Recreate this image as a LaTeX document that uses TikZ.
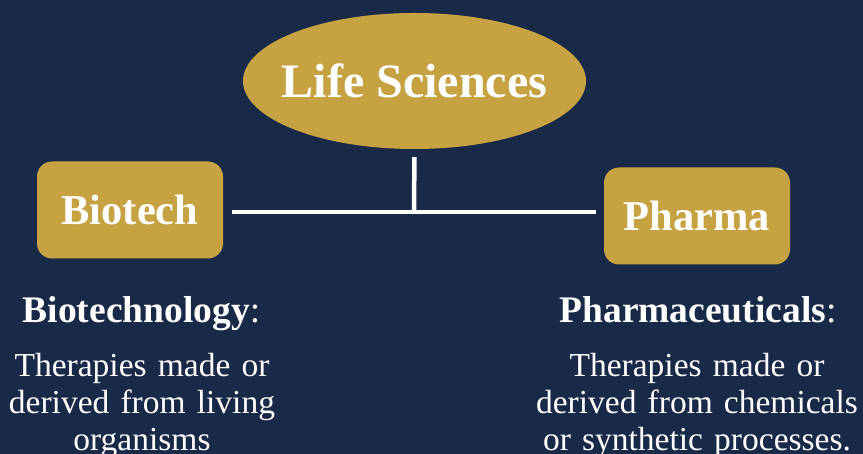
\documentclass[tikz,border=0pt]{standalone}
\usepackage{fontspec}
\setmainfont{Liberation Serif}
\usepackage{xcolor}
\usetikzlibrary{shapes.geometric}
\definecolor{navy}{RGB}{25,42,72}
\definecolor{gold}{RGB}{198,162,67}

\begin{document}
\begin{tikzpicture}[x=1pt,y=1pt,
                hub/.style={ellipse, fill=gold, text=white, inner xsep=-12pt, inner ysep=0pt, minimum width=343pt, minimum height=136pt, font=\bfseries\fontsize{48}{54}\selectfont},
                topic/.style={fill=gold, text=white, rounded corners=15pt, inner sep=0pt, minimum width=186pt, minimum height=97pt, font=\bfseries\fontsize{42.5}{48}\selectfont},
                link/.style={white, line width=4.5pt},
                heading/.style={text=white, anchor=base, inner sep=0pt, font=\fontsize{37.5}{42}\selectfont},
                blurb/.style={text=white, anchor=base, inner sep=0pt, align=center, text width=340pt, font=\fontsize{33.5}{37}\selectfont}]
                \useasboundingbox (0,0) rectangle (863,454);
                \fill[navy] (0,0) rectangle (863,454);
                \node[hub] (life) at (414.5,373) {Life Sciences};
                \node[topic] (bio) at (130,244) {Biotech};
                \node[topic] (pha) at (697,238) {Pharma};
                \coordinate (split) at (414,242);
                \draw[link, shorten <=9pt, shorten >=8pt] (bio.east |- split) -- (pha.west |- split);
                \draw[link, shorten >=8pt] (split) -- (life.south);
                \node[heading] (biohead) at (141.5,131) {\textbf{Biotechnology}:};
                \node[blurb] (biotext) at (142,77) {Therapies made or\\ derived from living\\ organisms};
                \node[heading] (phahead) at (698,131) {\textbf{Pharmaceuticals}:};
                \node[blurb] (phatext) at (697,77) {Therapies made or\\ derived from chemicals\\ or synthetic processes.};
            \end{tikzpicture}
\end{document}
